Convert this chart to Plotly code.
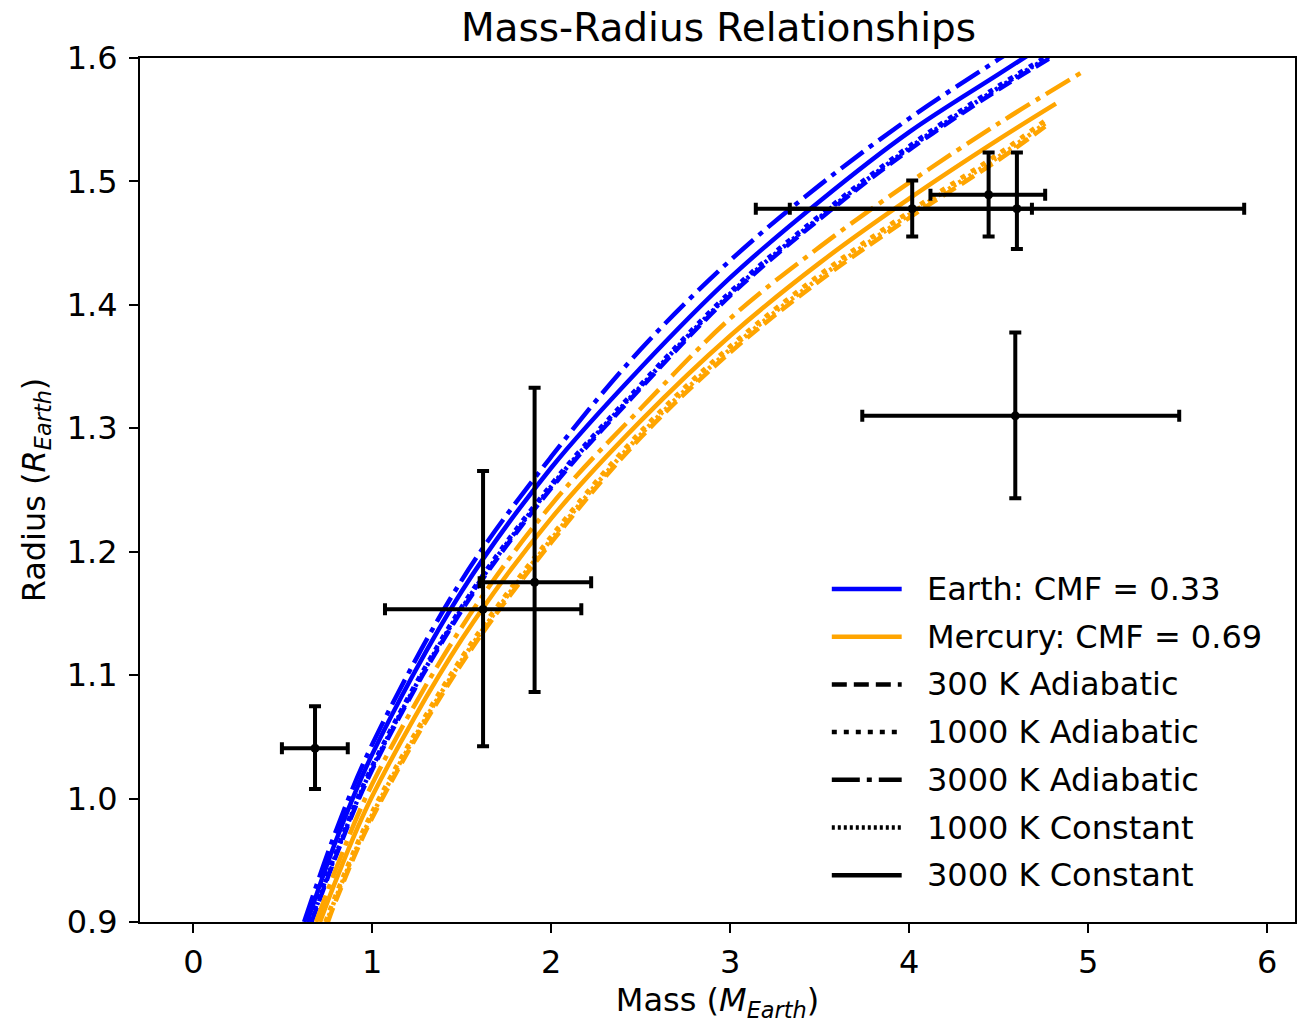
import plotly.graph_objects as go

# ---------------- data ----------------
# Earth-like composition, CMF = 0.33
earth_3000_adi_m = [0.619, 0.8, 1.0, 1.5, 2.0, 2.5, 3.0, 3.5, 4.0, 4.5, 4.9]
earth_3000_adi_r = [0.900, 0.975, 1.044, 1.177, 1.277, 1.364, 1.436, 1.497, 1.551, 1.599, 1.636]

earth_3000_con_m = [0.636, 0.8, 1.0, 1.5, 2.0, 2.5, 3.0, 3.5, 4.0, 4.5, 4.9]
earth_3000_con_r = [0.900, 0.967, 1.036, 1.168, 1.268, 1.349, 1.422, 1.484, 1.540, 1.587, 1.624]

earth_1000_adi_m = [0.654, 0.8, 1.0, 1.5, 2.0, 2.5, 3.0, 3.5, 4.0, 4.5, 4.9]
earth_1000_adi_r = [0.900, 0.9575, 1.0265, 1.1555, 1.2545, 1.3355, 1.4105, 1.4725, 1.5285, 1.5775, 1.6125]

earth_1000_con_m = [0.657, 0.8, 1.0, 1.5, 2.0, 2.5, 3.0, 3.5, 4.0, 4.5, 4.9]
earth_1000_con_r = [0.900, 0.956, 1.025, 1.154, 1.253, 1.334, 1.409, 1.471, 1.527, 1.576, 1.611]

earth_300_adi_m = [0.661, 0.8, 1.0, 1.5, 2.0, 2.5, 3.0, 3.5, 4.0, 4.5, 4.9]
earth_300_adi_r = [0.900, 0.9545, 1.0235, 1.1525, 1.2515, 1.3325, 1.4075, 1.4695, 1.5255, 1.5745, 1.6095]

# Mercury-like composition, CMF = 0.69
merc_3000_adi_m = [0.686, 0.8, 1.0, 1.5, 2.0, 2.5, 3.0, 3.5, 4.0, 4.5, 4.96]
merc_3000_adi_r = [0.900, 0.944, 1.012, 1.139, 1.238, 1.316, 1.389, 1.447, 1.499, 1.547, 1.588]

merc_3000_con_m = [0.708, 0.8, 1.0, 1.5, 2.0, 2.5, 3.0, 3.5, 4.0, 4.5, 4.82]
merc_3000_con_r = [0.900, 0.935, 1.002, 1.129, 1.227, 1.306, 1.375, 1.434, 1.486, 1.534, 1.563]

merc_1000_adi_m = [0.738, 0.8, 1.0, 1.5, 2.0, 2.5, 3.0, 3.5, 4.0, 4.5, 4.76]
merc_1000_adi_r = [0.900, 0.9235, 0.9895, 1.1145, 1.2125, 1.2975, 1.3665, 1.4245, 1.4755, 1.5225, 1.5495]

merc_1000_con_m = [0.745, 0.8, 1.0, 1.5, 2.0, 2.5, 3.0, 3.5, 4.0, 4.5, 4.76]
merc_1000_con_r = [0.900, 0.921, 0.987, 1.112, 1.210, 1.295, 1.364, 1.422, 1.473, 1.520, 1.547]

merc_300_adi_m = [0.752, 0.8, 1.0, 1.5, 2.0, 2.5, 3.0, 3.5, 4.0, 4.5, 4.76]
merc_300_adi_r = [0.900, 0.9185, 0.9845, 1.1095, 1.2075, 1.2925, 1.3615, 1.4195, 1.4705, 1.5175, 1.5445]

# Observed planets with error bars
obs_mass = [0.680, 1.619, 1.907, 4.017, 4.444, 4.602, 4.593]
obs_mass_err_plus = [0.183, 0.549, 0.316, 0.669, 0.316, 1.270, 0.916]
obs_mass_err_minus = [0.185, 0.548, 0.307, 0.684, 0.325, 1.459, 0.855]
obs_radius = [1.0408, 1.1533, 1.1753, 1.4779, 1.4892, 1.4779, 1.3101]
obs_radius_err_plus = [0.034, 0.112, 0.1575, 0.0229, 0.0343, 0.0456, 0.0675]
obs_radius_err_minus = [0.033, 0.111, 0.0889, 0.0225, 0.0338, 0.0327, 0.0667]

legend_labels = ["Earth: CMF = 0.33", "Mercury: CMF = 0.69", "300 K Adiabatic",
                 "1000 K Adiabatic", "3000 K Adiabatic", "1000 K Constant", "3000 K Constant"]

x_ticks = [0, 1, 2, 3, 4, 5, 6]
y_ticks = [0.9, 1.0, 1.1, 1.2, 1.3, 1.4, 1.5, 1.6]

# ---------------- styles ----------------
BLUE = "#0000ff"
ORANGE = "#ffa500"
LW = 4.5
DASH = {
    "300 K Adiabatic": "15px,7px",
    "1000 K Adiabatic": "5px,7px",
    "3000 K Adiabatic": "28px,7px,5px,7px",
    "1000 K Constant": "3px,3px",
    "3000 K Constant": "solid",
}
FONT = "DejaVu Sans"

# plot-area geometry in pixels (for the hand-placed legend)
W, H = 1304, 1023
ML, MR, MT, MB = 140, 7, 58, 101
PW, PH = W - ML - MR, H - MT - MB

fig = go.Figure()

curves = [
    (BLUE, "300 K Adiabatic", earth_300_adi_m, earth_300_adi_r),
    (BLUE, "1000 K Adiabatic", earth_1000_adi_m, earth_1000_adi_r),
    (BLUE, "3000 K Adiabatic", earth_3000_adi_m, earth_3000_adi_r),
    (BLUE, "1000 K Constant", earth_1000_con_m, earth_1000_con_r),
    (BLUE, "3000 K Constant", earth_3000_con_m, earth_3000_con_r),
    (ORANGE, "300 K Adiabatic", merc_300_adi_m, merc_300_adi_r),
    (ORANGE, "1000 K Adiabatic", merc_1000_adi_m, merc_1000_adi_r),
    (ORANGE, "3000 K Adiabatic", merc_3000_adi_m, merc_3000_adi_r),
    (ORANGE, "1000 K Constant", merc_1000_con_m, merc_1000_con_r),
    (ORANGE, "3000 K Constant", merc_3000_con_m, merc_3000_con_r),
]
for color, model, m, r in curves:
    fig.add_trace(go.Scatter(
        x=m, y=r, mode="lines", showlegend=False, hoverinfo="skip",
        line=dict(color=color, width=LW, dash=DASH[model], shape="spline", smoothing=1.0),
    ))

fig.add_trace(go.Scatter(
    x=obs_mass, y=obs_radius, mode="markers", showlegend=False,
    marker=dict(color="black", size=9),
    error_x=dict(type="data", array=obs_mass_err_plus, arrayminus=obs_mass_err_minus,
                 color="black", thickness=4, width=6),
    error_y=dict(type="data", array=obs_radius_err_plus, arrayminus=obs_radius_err_minus,
                 color="black", thickness=4, width=6),
))

# hand-placed legend (line samples + labels), like the matplotlib legend
legend_styles = [
    (BLUE, "solid"), (ORANGE, "solid"),
    ("black", DASH["300 K Adiabatic"]), ("black", DASH["1000 K Adiabatic"]),
    ("black", DASH["3000 K Adiabatic"]), ("black", DASH["1000 K Constant"]),
    ("black", DASH["3000 K Constant"]),
]
row0_px, row_step_px = 589, 47.7
sample_x0_px, sample_x1_px, text_x_px = 833, 903, 926
for i, (label, (color, dash)) in enumerate(zip(legend_labels, legend_styles)):
    ypx = row0_px + i * row_step_px
    yp = (H - MB - ypx) / PH
    fig.add_shape(type="line", xref="paper", yref="paper",
                  x0=(sample_x0_px - ML) / PW, x1=(sample_x1_px - ML) / PW, y0=yp, y1=yp,
                  line=dict(color=color, width=LW, dash=dash))
    fig.add_annotation(xref="paper", yref="paper", x=(text_x_px - ML) / PW, y=yp,
                       xanchor="left", yanchor="middle", showarrow=False, text=label,
                       font=dict(family=FONT, size=32, color="black"))

axis_common = dict(
    showline=True, linecolor="black", linewidth=2, mirror=True,
    ticks="outside", ticklen=9, tickwidth=2, tickcolor="black",
    showgrid=False, zeroline=False,
    tickfont=dict(family=FONT, size=32, color="black"),
)

fig.update_layout(
    width=W, height=H,
    margin=dict(l=ML, r=MR, t=MT, b=MB),
    paper_bgcolor="white", plot_bgcolor="white",
    font=dict(family=FONT, size=32, color="black"),
    showlegend=False,
    title=dict(text="Mass-Radius Relationships", x=0.551, xanchor="center",
               y=1 - 27 / 1023, yanchor="middle",
               font=dict(family=FONT, size=39, color="black")),
    xaxis=dict(range=[-0.298, 6.156], tickvals=x_ticks, ticktext=[str(v) for v in x_ticks],
               title=dict(text="Mass (<i>M</i><sub><i>Earth</i></sub>)",
                          font=dict(family=FONT, size=32), standoff=10),
               ticklabelstandoff=2,
               **axis_common),
    yaxis=dict(range=[0.9, 1.6], tickvals=y_ticks, ticktext=[f"{v:.1f}" for v in y_ticks],
               title=dict(text="Radius (<i>R</i><sub><i>Earth</i></sub>)",
                          font=dict(family=FONT, size=32), standoff=12),
               ticklabelstandoff=5,
               **axis_common),
)

fig.write_html("out.html")
